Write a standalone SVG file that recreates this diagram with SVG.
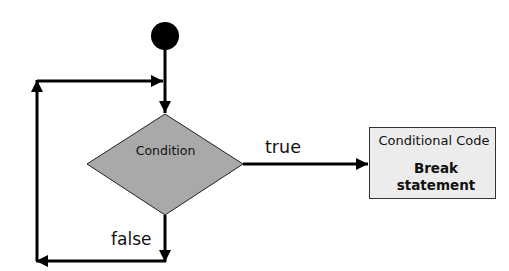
<svg xmlns="http://www.w3.org/2000/svg" width="509" height="271" viewBox="0 0 509 271">
<style>
.c{fill:none;stroke:#000;stroke-width:3}
.t{font-family:"DejaVu Sans",sans-serif;fill:#111}
</style>
<defs>
<marker id="a" viewBox="0 0 10 10" refX="10" refY="5" markerWidth="4" markerHeight="4" orient="auto" markerUnits="strokeWidth">
<path d="M0,0L10,5L0,10z" fill="#000"/>
</marker>
</defs>
<rect width="509" height="271" fill="#fff"/>
<g id="start"><circle cx="165" cy="36" r="14" fill="#000"/></g>
<g id="connectors">
<line class="c" x1="165" y1="48" x2="165" y2="113" marker-end="url(#a)"/>
<line class="c" x1="37" y1="81" x2="163" y2="81" marker-end="url(#a)"/>
<line class="c" x1="37" y1="261" x2="37" y2="80" marker-end="url(#a)"/>
<line class="c" x1="165" y1="215" x2="165" y2="262" marker-end="url(#a)"/>
<line class="c" x1="166" y1="261" x2="36" y2="261" marker-end="url(#a)"/>
<line class="c" x1="243" y1="164" x2="368" y2="164" marker-end="url(#a)"/>
<text class="t" x="265" y="153" font-size="17.5">true</text>
<text class="t" x="111" y="245" font-size="17">false</text>
</g>
<g id="condition">
<polygon points="165,114 243,164 165,215 87,164" fill="#aaa9a9" stroke="#222" stroke-width="1"/>
<text class="t" x="165.5" y="155" font-size="12.5" text-anchor="middle">Condition</text>
</g>
<g id="code">
<rect x="369.5" y="127.5" width="126" height="71" fill="#ececec" stroke="#333" stroke-width="1"/>
<text class="t" x="434" y="145" font-size="13" text-anchor="middle">Conditional Code</text>
<text class="t" x="436" y="173" font-size="13.5" font-weight="bold" text-anchor="middle">Break</text>
<text class="t" x="436" y="190" font-size="13.5" font-weight="bold" text-anchor="middle">statement</text>
</g>
</svg>
